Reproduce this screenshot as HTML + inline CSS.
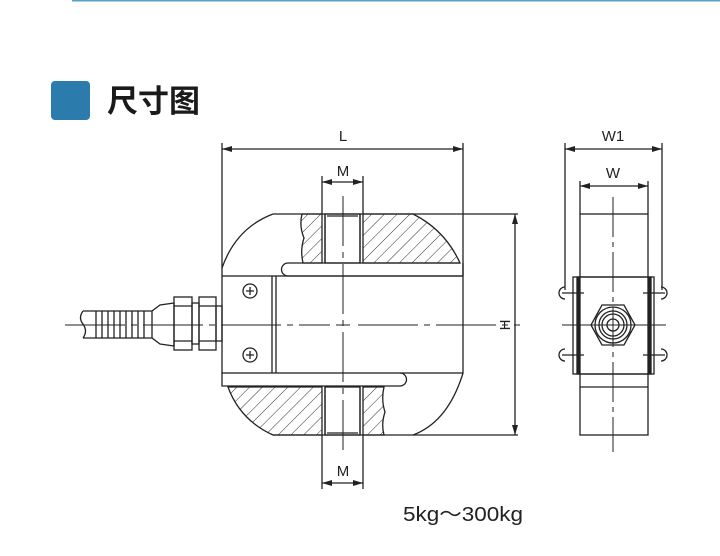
<!DOCTYPE html>
<html><head><meta charset="utf-8"><style>
html,body{margin:0;padding:0;background:#fff;width:720px;height:556px;overflow:hidden}
svg{display:block}
</style></head><body>
<svg width="720" height="556" viewBox="0 0 720 556" xmlns="http://www.w3.org/2000/svg" font-family="Liberation Sans, sans-serif">
<defs>
<pattern id="h" patternUnits="userSpaceOnUse" width="9" height="9" patternTransform="rotate(45)">
<line x1="0" y1="0" x2="0" y2="9" stroke="#333" stroke-width="1"/>
</pattern>
<marker id="a" viewBox="0 0 10 6" refX="10" refY="3" markerWidth="10" markerHeight="6" orient="auto-start-reverse" markerUnits="userSpaceOnUse"><path d="M0,0L10,3L0,6z" fill="#222"/></marker>
</defs>
<line x1="72" y1="0.5" x2="720" y2="0.5" stroke="#5a9ecb" stroke-width="2"/>
<rect x="51" y="81" width="39" height="39" rx="4" fill="#2b7bad"/>
<text x="107" y="112" font-size="31" font-weight="bold" font-family="Liberation Sans, Noto Sans CJK SC, sans-serif" fill="#1a1a1a">尺寸图</text>

<g stroke="#222" stroke-width="1.3" fill="none">
<line x1="222" y1="143" x2="222" y2="276"/><line x1="463" y1="143" x2="463" y2="276"/>
<line x1="222" y1="149" x2="463" y2="149" marker-start="url(#a)" marker-end="url(#a)"/>
<line x1="322" y1="176" x2="322" y2="214"/><line x1="363" y1="176" x2="363" y2="214"/>
<line x1="322" y1="182" x2="363" y2="182" marker-start="url(#a)" marker-end="url(#a)"/>
<path d="M363,214 L413,214 Q445,230 460,263 L363,263Z" fill="url(#h)"/>
<path d="M302,214 L322,214 L322,263 L303,263 Q300,250 304,238 Q299,226 302,214Z" fill="url(#h)"/>
<rect x="325" y="214" width="35" height="49" fill="#fff"/>
<line x1="325" y1="214" x2="325" y2="263"/><line x1="360" y1="214" x2="360" y2="263"/>
<line x1="327" y1="216" x2="358" y2="216"/>
<path d="M273,214 L518,214"/>
<path d="M273,214 Q236,228 222,268"/>
<line x1="303" y1="263" x2="460" y2="263"/>
<path d="M463,276 L288,276 A6.5,6.5 0 0 1 288,263 L303,263"/>
<rect x="222" y="276" width="241" height="97"/>
<line x1="272" y1="276" x2="272" y2="373"/><line x1="276" y1="276" x2="276" y2="373"/>
<circle cx="250" cy="291" r="7"/><circle cx="250" cy="355" r="7"/>
<path d="M246,291h8M250,287v8M246,355h8M250,351v8"/>
<path d="M222,373 L222,386 L400,386 A6.5,6.5 0 0 0 400,373"/>
<path d="M228,387 L322,387 L322,435 L273,435 Q240,420 228,387Z" fill="url(#h)"/>
<path d="M363,387 L384,387 Q381,400 385,412 Q381,424 384,435 L363,435Z" fill="url(#h)"/>
<rect x="325" y="387" width="35" height="48" fill="#fff"/>
<line x1="325" y1="387" x2="325" y2="435"/><line x1="360" y1="387" x2="360" y2="435"/>
<line x1="327" y1="433" x2="358" y2="433"/>
<path d="M273,435 L518,435"/>
<path d="M413,435 Q448,422 463,373"/>
<path d="M463,263 L463,276"/>
<line x1="322" y1="435" x2="322" y2="489"/><line x1="363" y1="435" x2="363" y2="489"/>
<line x1="322" y1="483" x2="363" y2="483" marker-start="url(#a)" marker-end="url(#a)"/>
<line x1="515" y1="214" x2="515" y2="435" marker-start="url(#a)" marker-end="url(#a)"/>
<path d="M83,311 L152,311 L152,338 L83,338"/>
<path d="M83,311 Q78,318 83,324 Q88,331 83,338"/>
<path d="M96,311v27M102,311v27M108,311v27M114,311v27M120,311v27M126,311v27M132,311v27M138,311v27M144,311v27"/>
<path d="M152,311 L160,305 L174,303 L174,346 L160,344 L152,338"/>
<rect x="174" y="297" width="18" height="53"/>
<line x1="174" y1="306" x2="192" y2="306"/><line x1="174" y1="341" x2="192" y2="341"/>
<rect x="192" y="303" width="7" height="41"/>
<rect x="199" y="297" width="17" height="53"/>
<line x1="199" y1="306" x2="216" y2="306"/><line x1="199" y1="341" x2="216" y2="341"/>
<rect x="216" y="306" width="6" height="35"/>
</g>
<g stroke="#222" stroke-width="1" fill="none">
<path d="M65,325 H330 M336,325 H350 M358,325 H520" stroke-dasharray="60,6,6,6"/>
<line x1="343" y1="196" x2="343" y2="456" stroke-dasharray="50,6,6,6"/>
</g>
<g font-size="15" fill="#222" text-anchor="middle">
<text x="343" y="141">L</text>
<text x="343" y="176">M</text>
<text x="343" y="476">M</text>
<text x="613" y="141">W1</text>
<text x="613" y="178">W</text>
<text x="505" y="325" transform="rotate(-90 505 325)" dy="5">H</text>
</g>

<g stroke="#222" stroke-width="1.3" fill="none">
<line x1="565" y1="143" x2="565" y2="290"/><line x1="662" y1="143" x2="662" y2="290"/>
<line x1="565" y1="149" x2="662" y2="149" marker-start="url(#a)" marker-end="url(#a)"/>
<line x1="580" y1="181" x2="580" y2="214"/><line x1="648" y1="181" x2="648" y2="214"/>
<line x1="580" y1="186" x2="648" y2="186" marker-start="url(#a)" marker-end="url(#a)"/>
<rect x="580" y="214" width="68" height="63"/>
<rect x="573" y="277" width="81" height="97"/>
<rect x="580" y="374" width="68" height="61"/>
<line x1="580" y1="387" x2="648" y2="387"/>
<rect x="577" y="277" width="3" height="97" fill="#222"/>
<rect x="648" y="277" width="3" height="97" fill="#222"/>
<path d="M565,287 A6,6 0 0 0 565,299 M565,349 A6,6 0 0 0 565,361 M661,287 A6,6 0 0 1 661,299 M661,349 A6,6 0 0 1 661,361"/>
<path d="M562,293h22 M562,355h22 M643,293h22 M643,355h22"/>
<polygon points="602,305 624,305 635,325 624,345 602,345 591,325"/>
<circle cx="613" cy="325" r="18"/><circle cx="613" cy="325" r="14"/><circle cx="613" cy="325" r="11"/><circle cx="613" cy="325" r="6"/>
</g>
<g stroke="#222" stroke-width="1">
<line x1="613" y1="197" x2="613" y2="452" stroke-dasharray="40,5,5,5"/>
<line x1="562" y1="325" x2="666" y2="325"/>
</g>
<text x="403" y="521" font-size="20" fill="#222" textLength="120" lengthAdjust="spacingAndGlyphs" font-family="Liberation Sans, Noto Sans CJK SC, sans-serif">5kg～300kg</text>
</svg>
</body></html>
